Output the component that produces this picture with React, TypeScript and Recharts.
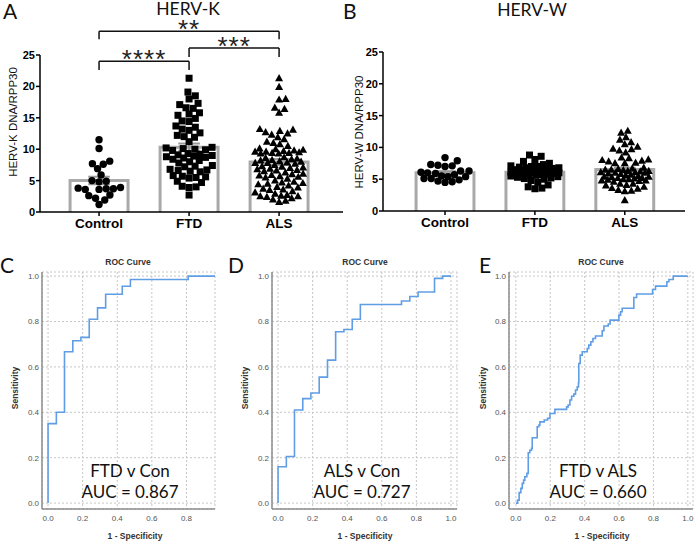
import React from 'react';
import {
  ComposedChart, Scatter, XAxis, YAxis, ReferenceArea, ReferenceLine,
  LineChart, Line, CartesianGrid,
} from 'recharts';

const groups = ['Control', 'FTD', 'ALS'];
const yTicks = [0, 5, 10, 15, 20, 25];
const rocTicks = [0, 0.2, 0.4, 0.6, 0.8, 1.0];
const rocTicksC = [0, 0.2, 0.4, 0.6, 0.8];

// HERV-K DNA/RPP30
const hervKControl = [11.5, 10.1, 8.1, 7.7, 7.6, 6.9, 5.9, 5.0, 4.9, 4.8, 3.9, 3.8, 3.7, 3.7, 3.6, 3.6, 2.7, 2.6, 2.2, 1.9, 1.2];
const hervKFtd = [
  21.3, 19.1, 18.5, 18.0, 17.3, 17.1, 16.6, 16.5, 15.8, 15.6, 15.4, 14.9, 14.5, 14.4, 13.7, 13.5, 13.2, 13.0, 12.6, 12.2,
  12.0, 11.9, 11.2, 10.3, 10.2, 10.1, 10.0, 9.9, 9.8, 9.3, 9.2, 9.1, 9.0, 8.9, 8.8, 8.7, 8.6, 8.4, 8.2, 8.0,
  7.8, 7.4, 7.3, 7.2, 6.8, 6.7, 6.6, 6.5, 6.4, 5.8, 5.7, 5.6, 5.5, 5.4, 4.9, 4.7, 4.1, 4.0, 3.9, 2.7,
];
const hervKAls = [
  21.3, 19.9, 18.0, 17.9, 16.6, 16.4, 15.8, 13.2, 13.1, 12.9, 12.7, 12.5, 12.3, 11.9, 11.6, 11.2, 11.0, 10.8, 10.5,
  10.1, 10.0, 9.9, 9.8, 9.7, 9.6, 9.6, 9.5, 9.4, 9.4, 9.3, 9.3,
  8.7, 8.6, 8.5, 8.4, 8.3, 8.2, 8.1, 8.0, 7.9, 7.8, 7.8, 7.7,
  7.5, 7.3, 7.2, 7.1, 7.0, 6.9, 6.8, 6.7, 6.6, 6.5,
  6.3, 6.1, 6.0, 5.9, 5.8, 5.7, 5.6, 5.5, 5.3,
  5.0, 4.8, 4.7, 4.6, 4.5, 4.4, 4.2, 4.0,
  3.9, 3.7, 3.6, 3.5, 3.3, 3.1, 2.9, 2.7, 2.6, 2.5, 2.5, 2.4, 2.2, 2.0, 1.8, 1.6,
];

// HERV-W DNA/RPP30
const hervWControl = [8.4, 7.9, 7.3, 7.2, 7.1, 7.0, 6.3, 6.3, 6.1, 6.0, 5.9, 5.7, 5.5, 5.4, 5.4, 5.1, 5.1, 4.9, 4.7, 4.6, 4.5];
const hervWFtd = [
  8.8, 8.6, 8.1, 7.8, 7.5, 7.3, 7.1, 7.0, 7.0, 6.9, 6.8, 6.8, 6.7, 6.6, 6.5, 6.4, 6.3, 6.2, 6.1, 6.0,
  6.5, 6.4, 6.3, 6.2, 6.1, 6.0, 5.9, 5.8, 5.7, 5.6, 6.2, 6.0, 5.9, 5.8, 5.6, 5.5, 5.4, 5.3, 5.2, 5.1,
  5.0, 4.8, 4.5, 4.1, 3.8, 3.6, 3.5,
];
const hervWAls = [
  12.6, 12.3, 11.6, 11.2, 10.8, 10.5, 10.1, 9.8, 9.7, 9.5, 9.2, 8.4, 8.3, 8.1, 8.0, 7.9, 7.8, 7.6, 7.5, 7.5,
  6.8, 6.7, 6.6, 6.5, 6.4, 6.3, 6.2, 6.1, 6.0, 5.9, 5.8, 5.7, 6.5, 6.3, 6.1, 6.0,
  5.6, 5.5, 5.4, 5.3, 5.2, 5.1, 5.0, 4.9, 4.8, 4.7, 4.6, 5.4, 5.2, 5.0, 4.8,
  4.3, 4.1, 3.8, 3.5, 3.3, 3.1, 3.2, 3.6, 4.0, 4.3, 1.7,
];

// ROC curves (1 - specificity, sensitivity)
const rocFtdConFpr = [0, 0, 0.048, 0.095, 0.143, 0.19, 0.238, 0.286, 0.333, 0.429, 0.476, 0.81, 1.0];
const rocFtdConTpr = [0, 0.35, 0.40, 0.667, 0.715, 0.73, 0.81, 0.86, 0.92, 0.955, 0.985, 1.0, 1.0];
const rocAlsConFpr = [0, 0, 0.048, 0.095, 0.143, 0.19, 0.238, 0.286, 0.333, 0.381, 0.429, 0.476, 0.714, 0.762, 0.81, 0.905, 0.952, 1.0];
const rocAlsConTpr = [0, 0.16, 0.205, 0.41, 0.46, 0.485, 0.555, 0.63, 0.755, 0.765, 0.81, 0.875, 0.89, 0.91, 0.93, 0.99, 1.0, 1.0];
const rocFtdAlsFpr = [
  0, 0.01, 0.019, 0.029, 0.037, 0.045, 0.052, 0.064, 0.072, 0.081, 0.091, 0.095, 0.124, 0.134, 0.14, 0.165, 0.184, 0.198, 0.227,
  0.295, 0.304, 0.314, 0.324, 0.337, 0.347, 0.357, 0.364, 0.366, 0.374, 0.386, 0.415, 0.424, 0.436, 0.448, 0.463,
  0.502, 0.512, 0.537, 0.548, 0.599, 0.609, 0.618, 0.686, 0.702, 0.795, 0.812, 0.878, 0.89, 0.915, 1.0,
];
const rocFtdAlsTpr = [
  0, 0.013, 0.046, 0.065, 0.087, 0.101, 0.116, 0.131, 0.222, 0.233, 0.241, 0.288, 0.336, 0.344, 0.358, 0.366, 0.373, 0.395, 0.413,
  0.424, 0.432, 0.454, 0.471, 0.48, 0.498, 0.512, 0.53, 0.615, 0.652, 0.667, 0.681, 0.696, 0.711, 0.725, 0.736,
  0.759, 0.78, 0.789, 0.806, 0.828, 0.843, 0.858, 0.906, 0.921, 0.941, 0.956, 0.975, 0.985, 1.0, 1.0,
];

const mean = (v: number[]) => v.reduce((s, x) => s + x, 0) / v.length;
const sem = (v: number[]) => {
  const m = mean(v);
  const sd = Math.sqrt(v.reduce((s, x) => s + (x - m) ** 2, 0) / (v.length - 1));
  return sd / Math.sqrt(v.length);
};

// simple beeswarm: push each point sideways until it no longer overlaps
function swarm(values: number[], pxY: number, d: number, maxHalf: number) {
  const order = values.map((_, i) => i).sort((a, b) => values[a] - values[b]);
  const placed: { x: number; y: number }[] = [];
  const out = new Array(values.length).fill(0);
  for (const i of order) {
    const y = values[i] * pxY;
    const near = placed.filter((p) => Math.abs(p.y - y) < d);
    const cands = [0];
    near.forEach((p) => {
      const dx = Math.sqrt(d * d - (p.y - y) ** 2);
      cands.push(p.x + dx, p.x - dx);
    });
    cands.sort((a, b) => Math.abs(a) - Math.abs(b));
    const ok = (c: number) => near.every((p) => (c - p.x) ** 2 + (p.y - y) ** 2 >= d * d - 0.01);
    let best = cands.find((c) => Math.abs(c) <= maxHalf && ok(c));
    if (best === undefined) {
      let score = -1;
      best = 0;
      for (let c = -maxHalf; c <= maxHalf; c += 0.5) {
        const s = Math.min(...near.map((p) => (c - p.x) ** 2 + (p.y - y) ** 2));
        if (s > score + 1e-6) { score = s; best = c; }
      }
    }
    placed.push({ x: best, y });
    out[i] = best;
  }
  return out;
}

const Circle = (p: any) => <circle cx={p.cx} cy={p.cy} r={3.7} fill="#000" />;
const Square = (p: any) => <rect x={p.cx - 3.5} y={p.cy - 3.5} width={7} height={7} fill="#000" />;
const Triangle = (p: any) => (
  <path d={`M${p.cx},${p.cy - 4.2}L${p.cx + 4},${p.cy + 3}L${p.cx - 4},${p.cy + 3}Z`} fill="#000" />
);
const shapes = [Circle, Square, Triangle];
const sizes = [7.2, 7, 6.6];

const BarOutline = (p: any) => (
  <path
    d={`M${p.x},${p.y + p.height}V${p.y}H${p.x + p.width}V${p.y + p.height}`}
    stroke="#a9a9a9" strokeWidth={3} fill="#fff"
  />
);

type Bracket = { from: number; to: number; y: number; drop: number; stars: string };

function DotPanel({ left, marginTop, marginRight, marginBottom, domainX, series, brackets }: {
  left: number; marginTop: number; marginRight: number; marginBottom: number;
  domainX: [number, number]; series: number[][]; brackets: Bracket[];
}) {
  const width = 350;
  const height = 240;
  const plotW = width - 40 - marginRight;
  const plotH = height - marginTop - marginBottom - 25;
  const pxX = plotW / (domainX[1] - domainX[0]);
  const pxY = plotH / 25;

  const pointSets = series.map((vals, gi) => {
    const off = swarm(vals, pxY, sizes[gi], 24);
    return vals.map((v, i) => ({ x: gi + off[i] / pxX, y: v }));
  });

  const axisStyle = { stroke: '#000', strokeWidth: 1.5 };

  return (
    <div style={{ position: 'absolute', left, top: 0 }}>
      <ComposedChart width={width} height={height} margin={{ top: marginTop, right: marginRight, bottom: marginBottom, left: 0 }}>
        <XAxis
          type="number" dataKey="x" domain={domainX} ticks={[0, 1, 2]} allowDataOverflow
          tickFormatter={(v: number) => groups[v]} height={25}
          axisLine={axisStyle} tickLine={axisStyle} tickSize={4} tickMargin={2}
          tick={{ fontSize: 13.5, fontWeight: 'bold', fill: '#000' }}
        />
        <YAxis
          type="number" dataKey="y" domain={[0, 25]} ticks={yTicks} width={40}
          axisLine={axisStyle} tickLine={axisStyle} tickSize={4} tickMargin={1}
          tick={{ fontSize: 11, fontWeight: 'bold', fill: '#000' }}
        />
        {series.map((vals, gi) => (
          <ReferenceArea
            key={`bar-${gi}`} x1={gi - 0.322} x2={gi + 0.322} y1={0} y2={mean(vals)}
            ifOverflow="visible" shape={BarOutline}
          />
        ))}
        {pointSets.map((pts, gi) => (
          <Scatter key={`pts-${gi}`} data={pts} dataKey="y" shape={shapes[gi]} isAnimationActive={false} />
        ))}
        {series.map((vals, gi) => {
          const m = mean(vals);
          const s = sem(vals);
          return [
            <ReferenceLine key={`ev-${gi}`} segment={[{ x: gi, y: m - s }, { x: gi, y: m + s }]} stroke="#9a9a9a" strokeWidth={2} ifOverflow="visible" />,
            <ReferenceLine key={`et-${gi}`} segment={[{ x: gi - 0.12, y: m + s }, { x: gi + 0.12, y: m + s }]} stroke="#9a9a9a" strokeWidth={2} ifOverflow="visible" />,
            <ReferenceLine key={`eb-${gi}`} segment={[{ x: gi - 0.12, y: m - s }, { x: gi + 0.12, y: m - s }]} stroke="#9a9a9a" strokeWidth={2} ifOverflow="visible" />,
          ];
        })}
        {brackets.map((b, i) => [
          <ReferenceLine
            key={`bh-${i}`} segment={[{ x: b.from, y: b.y }, { x: b.to, y: b.y }]} stroke="#111" strokeWidth={1.5} ifOverflow="visible"
            label={{ value: b.stars, position: 'top', offset: -7, fontSize: 26, fill: '#222', letterSpacing: 1 }}
          />,
          <ReferenceLine key={`bl-${i}`} segment={[{ x: b.from, y: b.y }, { x: b.from, y: b.y - b.drop }]} stroke="#111" strokeWidth={1.5} ifOverflow="visible" />,
          <ReferenceLine key={`br-${i}`} segment={[{ x: b.to, y: b.y }, { x: b.to, y: b.y - b.drop }]} stroke="#111" strokeWidth={1.5} ifOverflow="visible" />,
        ])}
      </ComposedChart>
    </div>
  );
}

function RocPanel({ left, width, xDomain, xTicks, fpr, tpr }: {
  left: number; width: number; xDomain: [number, number]; xTicks: number[]; fpr: number[]; tpr: number[];
}) {
  const data = fpr.map((x, i) => ({ fpr: x, tpr: tpr[i] }));
  const axisStyle = { stroke: '#8c8c8c', strokeWidth: 1.5 };
  return (
    <div style={{ position: 'absolute', left, top: 250 }}>
      <LineChart width={width} height={291} data={data} margin={{ top: 22, right: 5, bottom: 2, left: 0 }}>
        <CartesianGrid strokeDasharray="2 2" stroke="#c6c6c6" />
        <XAxis
          type="number" dataKey="fpr" domain={xDomain} ticks={xTicks} allowDataOverflow height={30}
          tickFormatter={(v: number) => v.toFixed(1)} axisLine={axisStyle} tickLine={false} tickSize={0} tickMargin={6}
          tick={{ fontSize: 8, fill: '#555' }}
        />
        <YAxis
          type="number" domain={[-0.026, 1.018]} ticks={rocTicks} allowDataOverflow width={42}
          tickFormatter={(v: number) => v.toFixed(1)} axisLine={axisStyle} tickLine={false} tickSize={0} tickMargin={3}
          tick={{ fontSize: 8, fill: '#555' }}
        />
        <Line type="stepAfter" dataKey="tpr" stroke="#5f9ee4" strokeWidth={1.6} dot={false} isAnimationActive={false} />
      </LineChart>
    </div>
  );
}

const calibri = 'Lato, "Open Sans", sans-serif';

export default function App() {
  return (
    <div style={{
      position: 'absolute', left: 0, top: 0, width: 700, height: 541, background: '#fff', overflow: 'hidden',
      fontFamily: '"Liberation Sans", Arial, sans-serif',
    }}>
      <DotPanel
        left={0} marginTop={55} marginRight={7} marginBottom={3} domainX={[-0.656, 2.71]}
        series={[hervKControl, hervKFtd, hervKAls]}
        brackets={[
          { from: 0, to: 1, y: 24.0, drop: 1.4, stars: '****' },
          { from: 1, to: 2, y: 26.1, drop: 1.4, stars: '***' },
          { from: 0, to: 2, y: 28.8, drop: 1.3, stars: '**' },
        ]}
      />
      <DotPanel
        left={343} marginTop={52} marginRight={8} marginBottom={4} domainX={[-0.69, 2.67]}
        series={[hervWControl, hervWFtd, hervWAls]} brackets={[]}
      />
      <RocPanel left={0} width={220} xDomain={[-0.035, 0.965]} xTicks={rocTicksC} fpr={rocFtdConFpr} tpr={rocFtdConTpr} />
      <RocPanel left={230} width={232} xDomain={[-0.035, 1.035]} xTicks={rocTicks} fpr={rocAlsConFpr} tpr={rocAlsConTpr} />
      <RocPanel left={467} width={231} xDomain={[-0.04, 1.03]} xTicks={rocTicks} fpr={rocFtdAlsFpr} tpr={rocFtdAlsTpr} />

      <svg width={700} height={541} style={{ position: 'absolute', left: 0, top: 0, pointerEvents: 'none' }}>
        <g fontFamily={calibri} fill="#111">
          <text x={3} y={19} fontSize={21}>A</text>
          <text x={343} y={19} fontSize={21}>B</text>
          <text x={0} y={273} fontSize={21}>C</text>
          <text x={228} y={273} fontSize={21}>D</text>
          <text x={479} y={273} fontSize={21}>E</text>
          <text x={188} y={15} fontSize={17.5} textAnchor="middle">HERV-K</text>
          <text x={532} y={16} fontSize={17.5} textAnchor="middle">HERV-W</text>
          <text x={130} y={477} fontSize={17} textAnchor="middle">FTD v Con</text>
          <text x={130} y={498} fontSize={17} textAnchor="middle">AUC = 0.867</text>
          <text x={362} y={477} fontSize={17} textAnchor="middle">ALS v Con</text>
          <text x={362} y={498} fontSize={17} textAnchor="middle">AUC = 0.727</text>
          <text x={598} y={477} fontSize={17} textAnchor="middle">FTD v ALS</text>
          <text x={598} y={498} fontSize={17} textAnchor="middle">AUC = 0.660</text>
        </g>
        <g fontFamily='"Liberation Sans", Arial, sans-serif' fill="#111">
          <text transform="translate(13,122) rotate(-90)" fontSize={11.5} textAnchor="middle" dominantBaseline="central">HERV-K DNA/RPP30</text>
          <text transform="translate(359,132) rotate(-90)" fontSize={11.5} textAnchor="middle" dominantBaseline="central">HERV-W DNA/RPP30</text>
        </g>
        <g fontFamily='"Liberation Sans", Arial, sans-serif' fontWeight="bold" fontSize={8.5} fill="#333">
          <text x={128} y={265} textAnchor="middle">ROC Curve</text>
          <text x={365} y={265} textAnchor="middle">ROC Curve</text>
          <text x={601} y={265} textAnchor="middle">ROC Curve</text>
          <text transform="translate(15,388) rotate(-90)" textAnchor="middle" dominantBaseline="central">Sensitivity</text>
          <text transform="translate(245,388) rotate(-90)" textAnchor="middle" dominantBaseline="central">Sensitivity</text>
          <text transform="translate(483,388) rotate(-90)" textAnchor="middle" dominantBaseline="central">Sensitivity</text>
          <text x={135} y={539} textAnchor="middle">1 - Specificity</text>
          <text x={365} y={539} textAnchor="middle">1 - Specificity</text>
          <text x={602} y={539} textAnchor="middle">1 - Specificity</text>
        </g>
      </svg>
    </div>
  );
}
